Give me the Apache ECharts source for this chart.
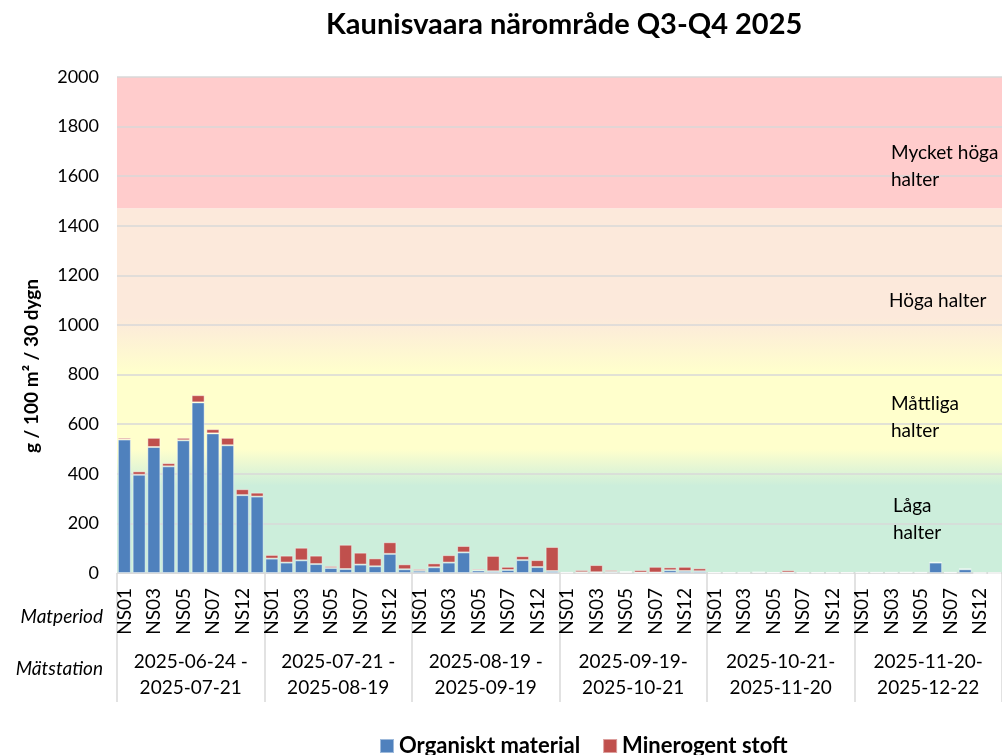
<!DOCTYPE html>
<html>
<head>
<meta charset="utf-8">
<script src="https://cdn.jsdelivr.net/npm/echarts@6/dist/echarts.min.js"></script>
<style>
html, body { margin: 0; padding: 0; background: #fff; }
#main { width: 1002px; height: 755px; }
</style>
</head>
<body>
<div id="main"></div>
<script>
var chart = echarts.init(document.getElementById('main'));

const periods = [
  '2025-06-24 -\n2025-07-21',
  '2025-07-21 -\n2025-08-19',
  '2025-08-19 -\n2025-09-19',
  '2025-09-19-\n2025-10-21',
  '2025-10-21-\n2025-11-20',
  '2025-11-20-\n2025-12-22'
];

const stations = ['NS01', 'NS02', 'NS03', 'NS04', 'NS05', 'NS06', 'NS07', 'NS08', 'NS12', 'NS13'];

// g / 100 m2 / 30 dygn, one row per period
const organic = [
  538, 396, 508, 430, 535, 688, 563, 515, 314, 308,
  58, 42, 51, 36, 20, 16, 34, 27, 77, 15,
  9, 23, 42, 83, 10, 7, 12, 52, 24, 8,
  1, 3, 3, 5, 4, 2, 2, 11, 8, 7,
  1, 1, 1, 3, 1, 2, 1, 1, 1, 1,
  2, 2, 2, 3, 2, 42, 2, 15, 0, 0
];

const mineral = [
  7, 14, 37, 13, 10, 29, 17, 30, 24, 16,
  15, 28, 51, 34, 8, 98, 48, 32, 47, 20,
  7, 16, 30, 26, 6, 62, 13, 16, 28, 97,
  3, 9, 29, 7, 4, 10, 23, 12, 17, 12,
  2, 2, 3, 1, 2, 9, 2, 2, 2, 2,
  1, 1, 1, 0, 1, 2, 1, 3, 0, 0
];

const levels = [
  ['Mycket höga\nhalter', 139],
  ['Höga halter', 287],
  ['Måttliga\nhalter', 390],
  ['Låga\nhalter', 492]
];

var font = 'Lato, "Open Sans", sans-serif';

var categories = [];
periods.forEach(function () {
  stations.forEach(function (s) { categories.push(s); });
});

var graphics = [];
levels.forEach(function (l, idx) {
  graphics.push({
    type: 'text',
    z: 100,
    x: idx === 1 ? 889 : (idx === 3 ? 893 : 891),
    y: l[1],
    style: { text: l[0], font: '19px ' + font, fill: '#000', lineHeight: 27 }
  });
});
graphics.push({
  type: 'text', z: 100, x: 103, y: 617,
  style: { text: 'Matperiod', font: 'italic 19px ' + font, fill: '#000', align: 'right', verticalAlign: 'middle' }
});
graphics.push({
  type: 'text', z: 100, x: 103, y: 669,
  style: { text: 'Mätstation', font: 'italic 19px ' + font, fill: '#000', align: 'right', verticalAlign: 'middle' }
});
graphics.push({
  type: 'text', z: 100, x: 32, y: 366, rotation: Math.PI / 2,
  style: { text: 'g / 100 m² / 30 dygn', font: 'bold 19px ' + font, fill: '#000', align: 'center', verticalAlign: 'middle' }
});

var option = {
  animation: false,
  textStyle: { fontFamily: font },
  title: {
    text: 'Kaunisvaara närområde Q3-Q4 2025',
    left: 321,
    top: 5,
    textStyle: { fontSize: 29, fontWeight: 'bold', color: '#000', fontFamily: font }
  },
  legend: {
    left: 374,
    top: 730,
    itemWidth: 14,
    itemHeight: 14,
    itemGap: 22,
    icon: 'rect',
    textStyle: { fontSize: 22, fontWeight: 'bold', color: '#000', fontFamily: font },
    data: ['Organiskt material', 'Minerogent stoft']
  },
  grid: { left: 117, right: -8, top: 77, bottom: 182 },
  xAxis: [
    {
      type: 'category',
      data: categories,
      axisLine: { lineStyle: { color: '#D9D9D9' } },
      axisTick: { show: false },
      axisLabel: {
        interval: 1,
        rotate: 90,
        margin: 15,
        fontSize: 19,
        color: '#000',
        fontFamily: font
      }
    },
    {
      type: 'category',
      position: 'bottom',
      data: periods,
      axisLine: { show: false },
      axisTick: { show: true, interval: 0, length: 129, lineStyle: { color: '#D9D9D9', width: 1.5 } },
      axisLabel: {
        interval: 0,
        hideOverlap: false,
        margin: 76,
        fontSize: 19,
        lineHeight: 26,
        color: '#000',
        fontFamily: font
      }
    }
  ],
  yAxis: {
    type: 'value',
    min: 0,
    max: 2000,
    interval: 200,
    z: 5,
    axisLine: { show: false },
    axisTick: { show: false },
    axisLabel: {
      fontSize: 18, color: '#000', margin: 18, fontFamily: font,
      formatter: function (v) { return String(v); }
    },
    splitLine: { lineStyle: { color: '#D9D9D9', width: 1.5 } }
  },
  graphic: graphics,
  series: [
    {
      name: 'bands',
      type: 'line',
      z: 0,
      data: [],
      silent: true,
      markArea: {
        silent: true,
        z: 0,
        data: [
          [{ yAxis: 1470, itemStyle: { color: '#FFCCCC' } }, { yAxis: 2000 }],
          [{
            yAxis: 0,
            itemStyle: {
              color: new echarts.graphic.LinearGradient(0, 0, 0, 1, [
                { offset: 0, color: '#FCE9DB' },
                { offset: 0.3, color: '#FCE9DB' },
                { offset: 0.45, color: '#FFFFCC' },
                { offset: 0.66, color: '#FFFFCC' },
                { offset: 0.76, color: '#CCEEDB' },
                { offset: 1, color: '#CCEEDB' }
              ])
            }
          }, { yAxis: 1470 }]
        ]
      }
    },
    {
      name: 'Organiskt material',
      type: 'bar',
      stack: 'total',
      z: 10,
      barCategoryGap: '12%',
      itemStyle: { color: '#4F81BD', borderColor: 'rgba(255,255,255,0.45)', borderWidth: 1 },
      data: organic
    },
    {
      name: 'Minerogent stoft',
      type: 'bar',
      stack: 'total',
      z: 10,
      barCategoryGap: '12%',
      itemStyle: { color: '#C0504D', borderColor: 'rgba(255,255,255,0.45)', borderWidth: 1 },
      data: mineral
    }
  ]
};

chart.setOption(option);
</script>
</body>
</html>
